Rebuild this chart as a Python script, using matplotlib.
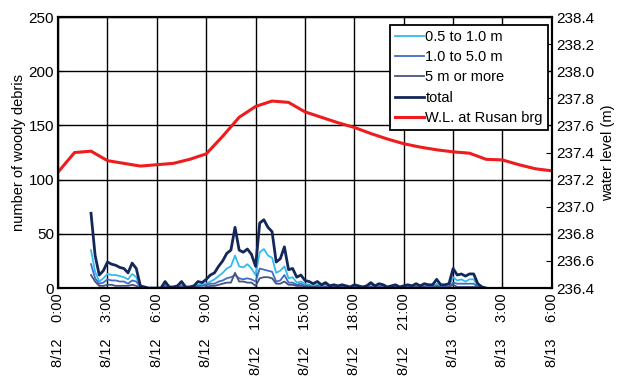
import numpy as np
import matplotlib
matplotlib.use("Agg")
import matplotlib.pyplot as plt

plt.rcParams['font.family'] = ['Liberation Sans', 'DejaVu Sans']

# debris counts every 15 min, from 8/12 2:00 to 8/13 2:00 (hours since 8/12 0:00)
debris_start = 2.0
debris_step = 0.25

total = [69, 30, 12, 16, 24, 22, 21, 19, 18, 14, 23, 18,
         2, 1, 0, 0, 0, 0, 6, 1, 1, 2, 6, 1, 1, 2, 6, 5,
         8, 12, 14, 20, 25, 32, 35, 56, 35, 33, 36, 31,
         20, 60, 63, 56, 52, 24, 27, 38, 17, 18, 10, 12,
         7, 6, 4, 6, 3, 5, 2, 3, 2, 3, 2, 1, 3, 2, 1, 2,
         5, 2, 4, 3, 1, 2, 3, 1, 2, 3, 2, 4, 2, 4, 3, 3,
         8, 3, 3, 4, 18, 12, 13, 11, 13, 13, 4, 1, 0]
small = [35, 15, 6, 9, 13, 12, 12, 11, 10, 8, 13, 10,
         1, 0, 0, 0, 0, 0, 3, 0, 0, 1, 3, 0, 0, 1, 3, 3,
         4, 6, 8, 11, 14, 18, 20, 30, 20, 19, 22, 18,
         12, 33, 36, 30, 28, 14, 16, 20, 9, 10, 5, 6,
         4, 3, 2, 3, 2, 3, 1, 2, 1, 2, 1, 1, 2, 1, 1, 1,
         3, 1, 2, 2, 1, 1, 2, 1, 1, 2, 1, 2, 1, 2, 2, 2,
         4, 2, 2, 2, 10, 7, 8, 6, 8, 8, 2, 0, 0]
medium = [22, 9, 4, 5, 8, 7, 7, 6, 6, 4, 7, 6,
          1, 0, 0, 0, 0, 0, 2, 0, 0, 0, 2, 0, 0, 1, 2, 2,
          3, 4, 4, 6, 7, 9, 10, 12, 9, 8, 9, 8,
          6, 18, 17, 16, 15, 6, 7, 12, 5, 5, 3, 4,
          2, 2, 1, 2, 1, 1, 1, 1, 1, 1, 1, 0, 1, 1, 0, 1,
          1, 1, 1, 1, 0, 1, 1, 0, 1, 1, 1, 1, 1, 1, 1, 1,
          2, 1, 1, 1, 5, 4, 4, 4, 4, 4, 1, 0, 0]
large = [12, 6, 2, 2, 3, 3, 2, 2, 2, 2, 3, 2,
         0, 0, 0, 0, 0, 0, 1, 1, 1, 1, 1, 1, 1, 0, 1, 0,
         1, 2, 2, 3, 4, 5, 5, 14, 6, 6, 5, 5,
         2, 9, 10, 10, 9, 4, 4, 6, 3, 3, 2, 2,
         1, 1, 1, 1, 0, 1, 0, 0, 0, 0, 0, 0, 0, 0, 0, 0,
         1, 0, 1, 0, 0, 0, 0, 0, 0, 0, 0, 1, 0, 1, 0, 0,
         2, 0, 0, 1, 3, 1, 1, 1, 1, 1, 1, 1, 0]

# water level at Rusan bridge, hourly
wl_hours = list(range(0, 31))
wl = [237.256, 237.40, 237.41, 237.34, 237.32, 237.30, 237.31, 237.32, 237.35,
      237.39, 237.52, 237.66, 237.74, 237.78, 237.77, 237.70, 237.66, 237.62,
      237.585, 237.54, 237.50, 237.465, 237.44, 237.42, 237.405, 237.395,
      237.35, 237.345, 237.31, 237.28, 237.265]

tick_hours = list(range(0, 31, 3))
tick_labels = ["8/12    0:00", "8/12    3:00", "8/12    6:00", "8/12    9:00",
               "8/12    12:00", "8/12    15:00", "8/12    18:00", "8/12    21:00",
               "8/13    0:00", "8/13    3:00", "8/13    6:00"]

t = debris_start + debris_step * np.arange(len(total))

fig = plt.figure(figsize=(6.18, 3.78), dpi=100)
ax = fig.add_axes([0.094, 0.238, 0.799, 0.717])
ax2 = ax.twinx()

l1, = ax.plot(t, small, color='#33bbee', lw=1.3, label='0.5 to 1.0 m')
l2, = ax.plot(t, medium, color='#3f6cc8', lw=1.3, label='1.0 to 5.0 m')
l3, = ax.plot(t, large, color='#46557f', lw=1.3, label='5 m or more')
l4, = ax.plot(t, total, color='#14275a', lw=2.0, label='total')
l5, = ax2.plot(wl_hours, wl, color='#ee1c1c', lw=2.2, label='W.L. at Rusan brg')

ax.set_xlim(0, 30)
ax.set_ylim(0, 250)
ax.set_yticks(range(0, 251, 50))
ax.set_xticks(tick_hours)
ax.set_xticklabels(tick_labels, rotation=90, fontsize=10.5)
ax.grid(True, color='black', lw=1.0)
ax.set_axisbelow(True)
ax.tick_params(axis='y', labelsize=11, direction='in', length=4, pad=3)
ax.tick_params(axis='x', direction='in', length=4, pad=4)
ax.set_ylabel('number of woody debris', fontsize=10.5, labelpad=2)

ax2.set_ylim(236.4, 238.4)
ax2.set_yticks(np.arange(236.4, 238.41, 0.2))
ax2.set_yticklabels(["%.1f" % v for v in np.arange(236.4, 238.41, 0.2)])
ax2.tick_params(axis='y', labelsize=11, direction='in', length=4, pad=3)
ax2.set_ylabel('water level (m)', fontsize=10.5, labelpad=5)

for a in (ax, ax2):
    for s in a.spines.values():
        s.set_linewidth(1.5)
        s.set_color('black')

leg = ax2.legend(handles=[l1, l2, l3, l4, l5], loc='upper right',
                 bbox_to_anchor=(0.992, 0.97), fontsize=10.5, handlelength=2.0,
                 handletextpad=0.1, borderaxespad=0, labelspacing=0.42,
                 fancybox=False, framealpha=1, edgecolor='black',
                 borderpad=0.35)
leg.get_frame().set_linewidth(1.3)

fig.savefig('out.png', dpi=100)
